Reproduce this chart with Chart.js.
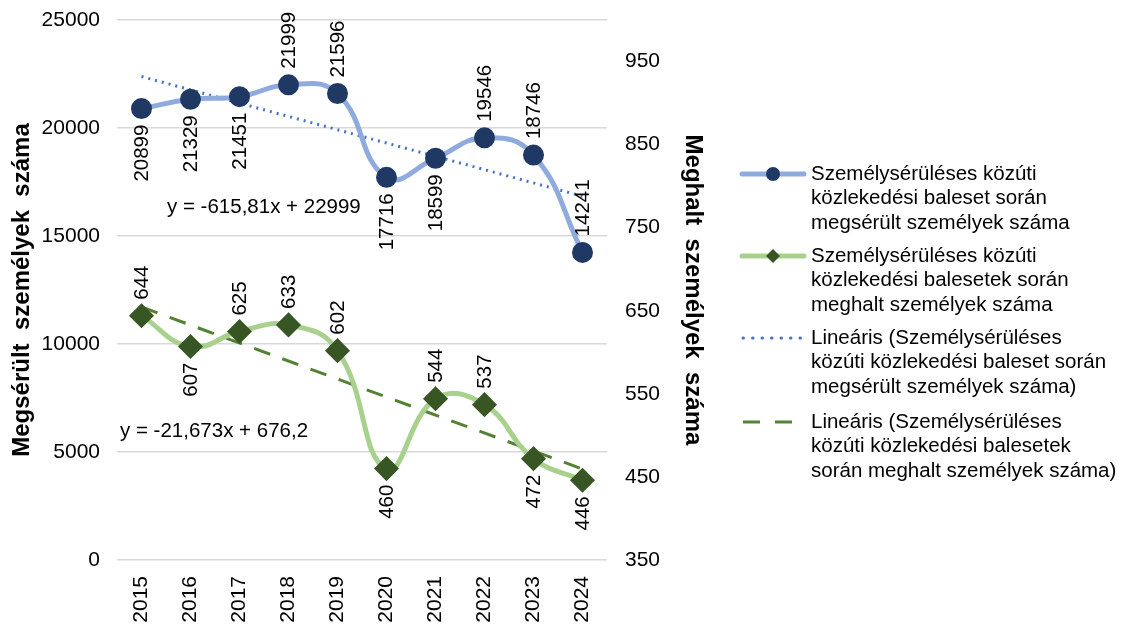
<!DOCTYPE html>
<html>
<head>
<meta charset="utf-8">
<script src="https://cdn.jsdelivr.net/npm/chart.js@4"></script>
<style>
  html, body { margin: 0; padding: 0; background: #fff; }
  #wrap { width: 1124px; height: 626px; }
</style>
</head>
<body>
<div id="wrap"><canvas id="chart" width="1124" height="626"></canvas></div>
<script>
const years = ["2015", "2016", "2017", "2018", "2019", "2020", "2021", "2022", "2023", "2024"];
const injured = [20899, 21329, 21451, 21999, 21596, 17716, 18599, 19546, 18746, 14241];
const killed = [644, 607, 625, 633, 602, 460, 544, 537, 472, 446];
// trendline end points
const injuredTrend = [22383, null, null, null, null, null, null, null, null, 16841];
const killedTrend = [654.5, null, null, null, null, null, null, null, null, 459.5];
const rightTicks = [350, 450, 550, 650, 750, 850, 950];

const injuredEq = "y = -615,81x + 22999";
const killedEq = "y = -21,673x + 676,2";
const legendLabels = [
    ["Személysérüléses közúti", "közlekedési baleset során", "megsérült személyek száma"],
    ["Személysérüléses közúti", "közlekedési balesetek során", "meghalt személyek száma"],
    ["Lineáris (Személysérüléses", "közúti közlekedési baleset során", "megsérült személyek száma)"],
    ["Lineáris (Személysérüléses", "közúti közlekedési balesetek", "során meghalt személyek száma)"]
];

// which side of the point each data label sits on
const injuredSide = ["below", "below", "below", "above", "above", "below", "below", "above", "above", "above"];
const killedSide = ["above", "below", "above", "above", "above", "below", "above", "above", "below", "below"];

const FONT = "'Liberation Sans', Arial, sans-serif";
const BLUE_LINE = "#8faadc", BLUE_MARK = "#203864", BLUE_TREND = "#4472c4";
const GREEN_LINE = "#a9d18e", GREEN_MARK = "#375623", GREEN_TREND = "#548235";

const labelPlugin = {
    id: "labels",
    afterDatasetsDraw(chart) {
        const ctx = chart.ctx;
        ctx.save();
        ctx.font = "20.5px " + FONT;
        ctx.fillStyle = "#000";
        ctx.textBaseline = "middle";
        [[0, injured, injuredSide], [1, killed, killedSide]].forEach(([idx, vals, sides]) => {
            chart.getDatasetMeta(idx).data.forEach((pt, i) => {
                ctx.save();
                if (sides[i] === "above") {
                    ctx.translate(pt.x, pt.y - 16);
                    ctx.textAlign = "left";
                } else {
                    ctx.translate(pt.x, pt.y + 16);
                    ctx.textAlign = "right";
                }
                ctx.rotate(-Math.PI / 2);
                ctx.fillText(String(vals[i]), 0, 1);
                ctx.restore();
            });
        });

        // trendline equations
        const a = chart.chartArea;
        ctx.textAlign = "left";
        ctx.fillText(injuredEq, a.left + 50, 207);
        ctx.fillText(killedEq, a.left + 3, 431);

        // legend
        const lx = 742, tx = 811;
        const rows = [174, 256, 338, 422];
        ctx.font = "20.5px " + FONT;
        ctx.fillStyle = "#000";
        rows.forEach((y, k) => {
            legendLabels[k].forEach((line, j) => ctx.fillText(line, tx, y + j * 24.5));
        });
        ctx.lineCap = "round";
        // series 1
        ctx.strokeStyle = BLUE_LINE; ctx.lineWidth = 5;
        ctx.beginPath(); ctx.moveTo(lx, rows[0]); ctx.lineTo(lx + 62, rows[0]); ctx.stroke();
        ctx.fillStyle = BLUE_MARK;
        ctx.beginPath(); ctx.arc(lx + 31, rows[0], 7, 0, Math.PI * 2); ctx.fill();
        // series 2
        ctx.strokeStyle = GREEN_LINE;
        ctx.beginPath(); ctx.moveTo(lx, rows[1]); ctx.lineTo(lx + 62, rows[1]); ctx.stroke();
        ctx.fillStyle = GREEN_MARK;
        ctx.beginPath();
        ctx.moveTo(lx + 31, rows[1] - 7); ctx.lineTo(lx + 38, rows[1]);
        ctx.lineTo(lx + 31, rows[1] + 7); ctx.lineTo(lx + 24, rows[1]);
        ctx.closePath(); ctx.fill();
        // trend 1
        ctx.strokeStyle = BLUE_TREND; ctx.lineWidth = 3;
        ctx.setLineDash([0.5, 9]);
        ctx.beginPath(); ctx.moveTo(lx + 1, rows[2]); ctx.lineTo(lx + 60, rows[2]); ctx.stroke();
        // trend 2
        ctx.strokeStyle = GREEN_TREND; ctx.lineCap = "butt";
        ctx.setLineDash([17, 15]);
        ctx.beginPath(); ctx.moveTo(lx + 1, rows[3]); ctx.lineTo(lx + 50, rows[3]); ctx.stroke();
        ctx.restore();
    }
};

const tickFont = { family: FONT, size: 21 };
const titleFont = { family: FONT, size: 24, weight: "bold" };

new Chart(document.getElementById("chart"), {
    type: "line",
    data: {
        labels: years,
        datasets: [
            {
                label: "Megsérült",
                data: injured,
                yAxisID: "y",
                borderColor: BLUE_LINE,
                borderWidth: 5,
                tension: 0.45,
                pointStyle: "circle",
                pointRadius: 8,
                pointBackgroundColor: BLUE_MARK,
                pointBorderColor: BLUE_MARK,
                order: 0
            },
            {
                label: "Meghalt",
                data: killed,
                yAxisID: "y2",
                borderColor: GREEN_LINE,
                borderWidth: 5,
                tension: 0.45,
                pointStyle: "rectRot",
                pointRadius: 9,
                pointBackgroundColor: GREEN_MARK,
                pointBorderColor: GREEN_MARK,
                order: 0
            },
            {
                label: "Lineáris megsérült",
                data: injuredTrend,
                yAxisID: "y",
                spanGaps: true,
                borderColor: BLUE_TREND,
                borderWidth: 3,
                borderDash: [2, 5],
                pointRadius: 0,
                order: 1
            },
            {
                label: "Lineáris meghalt",
                data: killedTrend,
                yAxisID: "y2",
                spanGaps: true,
                borderColor: GREEN_TREND,
                borderWidth: 3,
                borderDash: [17, 13],
                pointRadius: 0,
                order: 1
            }
        ]
    },
    options: {
        responsive: false,
        animation: false,
        layout: { padding: { left: 4, right: 413, top: 20, bottom: 0 } },
        plugins: { legend: { display: false }, tooltip: { enabled: false } },
        scales: {
            x: {
                offset: true,
                grid: { display: false },
                border: { display: false },
                ticks: {
                    color: "#000",
                    font: tickFont,
                    minRotation: 90,
                    maxRotation: 90,
                    padding: 8
                },
                afterFit(s) { s.height = 66; s.paddingTop = 0; }
            },
            y: {
                position: "left",
                min: 0,
                max: 25000,
                grid: { color: "#d9d9d9", lineWidth: 1.5, drawTicks: false },
                border: { display: false },
                ticks: {
                    stepSize: 5000,
                    color: "#000",
                    font: tickFont,
                    padding: 17,
                    callback: v => String(v)
                },
                title: {
                    display: true,
                    text: "Megsérült  személyek  száma",
                    color: "#000",
                    font: titleFont,
                    padding: 4
                },
                afterFit(s) { s.width = 113; s.paddingTop = 0; s.paddingBottom = 0; }
            },
            y2: {
                position: "right",
                min: 350,
                max: 1000,
                grid: { display: false, drawTicks: false },
                border: { display: false },
                afterBuildTicks(s) { s.ticks = rightTicks.map(v => ({ value: v })); },
                ticks: {
                    color: "#000",
                    font: tickFont,
                    padding: 18,
                    callback: v => String(v)
                },
                title: {
                    display: true,
                    text: "Meghalt  személyek  száma",
                    color: "#000",
                    font: titleFont,
                    padding: 4
                },
                afterFit(s) { s.width = 104; s.paddingTop = 0; s.paddingBottom = 0; }
            }
        }
    },
    plugins: [labelPlugin]
});
</script>
</body>
</html>
